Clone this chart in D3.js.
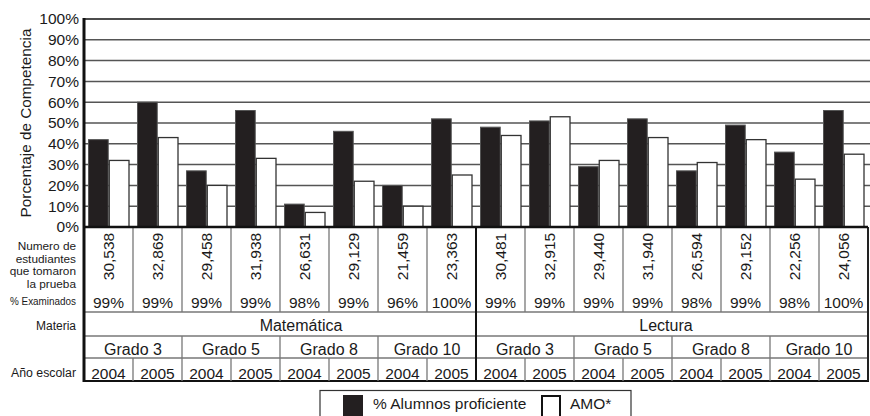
<!DOCTYPE html>
<html><head><meta charset="utf-8">
<script src="https://cdn.jsdelivr.net/npm/d3@7"></script>
<style>body{margin:0;background:#fff}svg{display:block;font-family:"Liberation Sans",Arial,sans-serif}</style>
</head><body><svg id="c" width="870" height="416"></svg>
<script>
const subjects = ["Matemática", "Lectura"];
const grades = ["Grado 3", "Grado 5", "Grado 8", "Grado 10"];
const years = ["2004", "2005"];
const proficient = [42, 60, 27, 56, 11, 46, 20, 52, 48, 51, 29, 52, 27, 49, 36, 56];
const amo = [32, 43, 20, 33, 7, 22, 10, 25, 44, 53, 32, 43, 31, 42, 23, 35];
const students = ["30,538","32,869","29,458","31,938","26,631","29,129","21,459","23,363","30,481","32,915","29,440","31,940","26,594","29,152","22,256","24,056"];
const examined = ["99%","99%","99%","99%","98%","99%","96%","100%","99%","99%","99%","99%","98%","99%","98%","100%"];
const yTicks = [0,10,20,30,40,50,60,70,80,90,100];
const seriesNames = ["% Alumnos proficiente", "AMO*"];

const svg = d3.select("#c");
const L = 84, R = 868, T = 19, B = 227;
const ink = "#1a1a1a";
const cols = d3.range(16);
const x = d3.scaleBand().domain(cols).range([L, R]).padding(0);
const xs = d3.scaleBand().domain([0,1]).range([4.5, 45]).paddingInner(0.05);
const y = d3.scaleLinear().domain([0, 100]).range([B, T]);

// gridlines
svg.append("g").selectAll("line").data(yTicks.filter(d => d > 0)).join("line")
  .attr("x1", L).attr("x2", R + 2).attr("y1", d => y(d)).attr("y2", d => y(d))
  .attr("stroke", d => d === 100 ? "#111" : "#555").attr("stroke-width", 1.5);

// y axis labels
const yAxis = d3.axisLeft(y).tickValues(yTicks).tickFormat(d => d + "%").tickSize(0).tickPadding(4);
const ga = svg.append("g").attr("transform", `translate(${L - 1},0)`).call(yAxis);
ga.select(".domain").remove();
ga.selectAll("text").attr("font-size", 15.5).attr("fill", ink).attr("font-family", "Liberation Sans, Arial, sans-serif");

svg.append("text").attr("transform", `translate(31,${(T + B) / 2}) rotate(-90)`)
  .attr("text-anchor", "middle").attr("font-size", 15.3).attr("fill", ink)
  .text("Porcentaje de Competencia");

// bars
const bg = svg.append("g");
bg.selectAll("rect.p").data(proficient).join("rect").attr("class", "p")
  .attr("x", (d, i) => x(i) + xs(0)).attr("width", xs.bandwidth())
  .attr("y", d => y(d)).attr("height", d => B - y(d))
  .attr("fill", "#231f20").attr("stroke", "#555").attr("stroke-width", 1);
bg.selectAll("rect.a").data(amo).join("rect").attr("class", "a")
  .attr("x", (d, i) => x(i) + xs(1)).attr("width", xs.bandwidth())
  .attr("y", d => y(d)).attr("height", d => B - y(d))
  .attr("fill", "#fff").attr("stroke", "#333").attr("stroke-width", 1.3);

// table
const r1 = 312, r2 = 336, r3 = 358, r4 = 381;
const tg = svg.append("g");
const gray = "#777";
[r1, r2, r3].forEach(yy => tg.append("line").attr("x1", L).attr("x2", R).attr("y1", yy).attr("y2", yy).attr("stroke", gray).attr("stroke-width", 1.5));
tg.append("line").attr("x1", L).attr("x2", R + 1).attr("y1", r4).attr("y2", r4).attr("stroke", "#111").attr("stroke-width", 2);
cols.slice(1).forEach(i => {
  const xx = x(i);
  tg.append("line").attr("x1", xx).attr("x2", xx).attr("y1", B).attr("y2", r1).attr("stroke", gray).attr("stroke-width", 1.3);
  tg.append("line").attr("x1", xx).attr("x2", xx).attr("y1", r3).attr("y2", r4).attr("stroke", gray).attr("stroke-width", 1.3);
  if (i % 2 === 0) tg.append("line").attr("x1", xx).attr("x2", xx).attr("y1", r2).attr("y2", r3).attr("stroke", gray).attr("stroke-width", 1.3);
});
tg.append("line").attr("x1", x(8)).attr("x2", x(8)).attr("y1", B).attr("y2", r4).attr("stroke", "#111").attr("stroke-width", 2);
tg.append("line").attr("x1", R).attr("x2", R).attr("y1", B).attr("y2", r4).attr("stroke", "#222").attr("stroke-width", 2);
svg.append("line").attr("x1", L).attr("x2", R).attr("y1", B).attr("y2", B).attr("stroke", "#111").attr("stroke-width", 2.5);
svg.append("line").attr("x1", L).attr("x2", L).attr("y1", T - 1).attr("y2", r4 + 1).attr("stroke", "#111").attr("stroke-width", 3);

// table texts
tg.selectAll("text.n").data(students).join("text").attr("class", "n")
  .attr("transform", (d, i) => `translate(${x(i) + x.bandwidth() / 2 + 5.5},256.5) rotate(-90)`)
  .attr("text-anchor", "middle").attr("font-size", 15.5).attr("fill", ink).text(d => d);
tg.selectAll("text.e").data(examined).join("text").attr("class", "e")
  .attr("x", (d, i) => x(i) + x.bandwidth() / 2).attr("y", 307.5)
  .attr("text-anchor", "middle").attr("font-size", 15.5).attr("fill", ink).text(d => d);
const subjOffset = [21, -6];
tg.selectAll("text.s").data(subjects).join("text").attr("class", "s")
  .attr("x", (d, i) => x(i * 8) + x.bandwidth() * 4 + subjOffset[i]).attr("y", 331)
  .attr("text-anchor", "middle").attr("font-size", 16).attr("fill", ink).text(d => d);
const gradeCells = [];
subjects.forEach((s, si) => grades.forEach((g, gi) => gradeCells.push({ g, c: si * 8 + gi * 2 })));
tg.selectAll("text.g").data(gradeCells).join("text").attr("class", "g")
  .attr("x", d => x(d.c) + x.bandwidth()).attr("y", 354.5)
  .attr("text-anchor", "middle").attr("font-size", 16).attr("fill", ink).text(d => d.g);
tg.selectAll("text.y").data(cols).join("text").attr("class", "y")
  .attr("x", i => x(i) + x.bandwidth() / 2).attr("y", 378.5)
  .attr("text-anchor", "middle").attr("font-size", 15.5).attr("fill", ink).text(i => years[i % 2]);

// row labels
const lab = svg.append("g").attr("text-anchor", "end").attr("fill", ink);
["Numero de", "estudiantes", "que tomaron", "la prueba"].forEach((t, i) =>
  lab.append("text").attr("x", 76).attr("y", 250 + i * 12.5).attr("font-size", 11.8).text(t));
lab.append("text").attr("x", 76).attr("y", 305).attr("font-size", 10.5)
  .attr("textLength", 66).attr("lengthAdjust", "spacingAndGlyphs").text("% Examinados");
lab.append("text").attr("x", 76).attr("y", 330).attr("font-size", 12).text("Materia");
lab.append("text").attr("x", 76).attr("y", 377).attr("font-size", 12.3).text("Año escolar");

// legend
const lg = svg.append("g");
lg.append("rect").attr("x", 320).attr("y", 390.5).attr("width", 311).attr("height", 40)
  .attr("fill", "#fff").attr("stroke", "#333").attr("stroke-width", 1.2);
lg.append("rect").attr("x", 343).attr("y", 395).attr("width", 20).attr("height", 30).attr("fill", "#231f20");
lg.append("text").attr("x", 373).attr("y", 409).attr("font-size", 15.5).attr("fill", ink).text(seriesNames[0]);
lg.append("rect").attr("x", 542).attr("y", 396).attr("width", 18).attr("height", 30)
  .attr("fill", "#fff").attr("stroke", "#111").attr("stroke-width", 2);
lg.append("text").attr("x", 570).attr("y", 409).attr("font-size", 15.5).attr("fill", ink).text(seriesNames[1]);
</script></body></html>
